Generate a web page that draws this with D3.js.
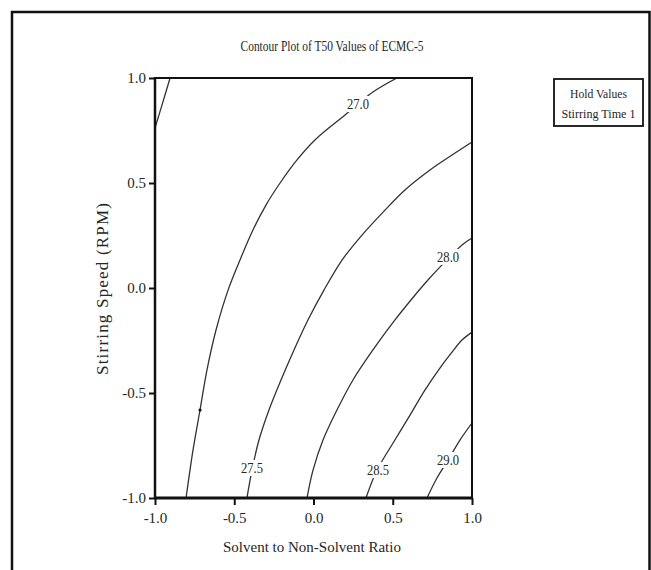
<!DOCTYPE html>
<html>
<head>
<meta charset="utf-8">
<script src="https://cdn.jsdelivr.net/npm/d3@7"></script>
<style>
  html, body { margin: 0; padding: 0; background: #fff; }
  svg { display: block; }
  text { font-family: "Liberation Serif", "Times New Roman", serif; fill: #262626; }
</style>
</head>
<body>
<div id="chart"></div>
<script>
// ---------- data ----------
const chartTitle = "Contour Plot of T50 Values of ECMC-5";
const xTitle = "Solvent to Non-Solvent Ratio";
const yTitle = "Stirring Speed (RPM)";
const legendLines = ["Hold Values", "Stirring Time  1"];

const xTicks = [-1.0, -0.5, 0.0, 0.5, 1.0];
const xTickLabels = ["-1.0", "-0.5", "0.0", "0.5", "1.0"];
const yTicks = [-1.0, -0.5, 0.0, 0.5, 1.0];
const yTickLabels = ["-1.0", "-0.5", "0.0", "0.5", "1.0"];

// contour levels and their traced points [solvent ratio, stirring speed]
const contourLevels = ["26.5", "27.0", "27.5", "28.0", "28.5", "29.0"];
const contour265 = [[-1.0, 0.762], [-0.956, 0.871], [-0.905, 1.0]];
const contour270 = [[-0.804, -1.0], [-0.760, -0.771], [-0.716, -0.581], [-0.672, -0.390], [-0.615, -0.200],
  [-0.539, -0.010], [-0.464, 0.133], [-0.382, 0.276], [-0.300, 0.395], [-0.211, 0.500], [-0.104, 0.610],
  [0.009, 0.705], [0.199, 0.824], [0.375, 0.933], [0.527, 1.0]];
const contour275 = [[-0.420, -1.0], [-0.388, -0.867], [-0.344, -0.724], [-0.281, -0.581], [-0.205, -0.438],
  [-0.123, -0.295], [-0.035, -0.152], [0.066, -0.010], [0.180, 0.133], [0.306, 0.252], [0.451, 0.371],
  [0.577, 0.467], [0.735, 0.562], [0.874, 0.633], [1.0, 0.695]];
const contour280 = [[-0.041, -1.0], [-0.003, -0.867], [0.060, -0.724], [0.148, -0.581], [0.249, -0.438],
  [0.375, -0.295], [0.514, -0.152], [0.615, -0.057], [0.722, 0.038], [0.811, 0.110], [0.937, 0.205], [1.0, 0.238]];
const contour285 = [[0.331, -1.0], [0.401, -0.867], [0.502, -0.738], [0.609, -0.605], [0.703, -0.486],
  [0.811, -0.367], [0.874, -0.305], [0.937, -0.248], [1.0, -0.210]];
const contour290 = [[0.716, -1.0], [0.779, -0.905], [0.849, -0.819], [0.924, -0.724], [1.0, -0.643]];

// contour label anchors (solvent ratio, stirring speed) and texts
const labelX = [0.281, -0.388, 0.849, 0.407, 0.849];
const labelY = [0.876, -0.857, 0.148, -0.867, -0.819];
const labelText = ["27.0", "27.5", "28.0", "28.5", "29.0"];

// small marker on the 27.0 contour
const markerPoint = [[-0.716, -0.581]];

// ---------- drawing ----------
(function () {
const W = 651, H = 570;
const svg = d3.select("#chart").append("svg").attr("width", W).attr("height", H);
svg.append("rect").attr("width", W).attr("height", H).attr("fill", "#fff");

// outer frame
svg.append("path")
  .attr("d", "M12,575 V12 H649.5 V575")
  .attr("fill", "none").attr("stroke", "#111").attr("stroke-width", 2.5);

const pLeft = 155, pRight = 472, pTop = 78, pBottom = 498;
const x = d3.scaleLinear().domain([-1, 1]).range([pLeft, pRight]);
const y = d3.scaleLinear().domain([-1, 1]).range([pBottom, pTop]);

// title
svg.append("text").attr("x", 332).attr("y", 51).attr("text-anchor", "middle")
  .attr("font-size", 14).attr("textLength", 183).attr("lengthAdjust", "spacingAndGlyphs")
  .text(chartTitle);

// clip
svg.append("clipPath").attr("id", "plotclip").append("rect")
  .attr("x", pLeft).attr("y", pTop).attr("width", pRight - pLeft).attr("height", pBottom - pTop);

const line = d3.line().x(d => x(d[0])).y(d => y(d[1])).curve(d3.curveCatmullRom.alpha(0.5));
const contours = [contour265, contour270, contour275, contour280, contour285, contour290];
const g = svg.append("g").attr("clip-path", "url(#plotclip)");
g.selectAll("path.contour").data(contours).join("path")
  .attr("class", "contour")
  .attr("d", line)
  .attr("fill", "none").attr("stroke", "#333").attr("stroke-width", 1.3);

g.selectAll("circle.marker").data(markerPoint).join("circle")
  .attr("cx", d => x(d[0])).attr("cy", d => y(d[1])).attr("r", 1.6).attr("fill", "#111");

// contour labels
const lab = svg.append("g");
labelText.forEach((t, i) => {
  const cx = x(labelX[i]), cy = y(labelY[i]);
  lab.append("rect").attr("x", cx - 14).attr("y", cy - 8).attr("width", 28).attr("height", 16).attr("fill", "#fff");
  lab.append("text").attr("x", cx).attr("y", cy + 5).attr("text-anchor", "middle")
    .attr("font-size", 14).attr("textLength", 22).attr("lengthAdjust", "spacingAndGlyphs").text(t);
});

// plot frame
svg.append("rect").attr("x", pLeft).attr("y", pTop).attr("width", pRight - pLeft).attr("height", pBottom - pTop)
  .attr("fill", "none").attr("stroke", "#111").attr("stroke-width", 2);
svg.append("line").attr("x1", pLeft - 1).attr("x2", pRight + 1).attr("y1", pBottom).attr("y2", pBottom)
  .attr("stroke", "#111").attr("stroke-width", 3);
svg.append("line").attr("x1", pLeft).attr("x2", pLeft).attr("y1", pTop - 1).attr("y2", pBottom + 1)
  .attr("stroke", "#111").attr("stroke-width", 2.5);

// axes
const xAxis = d3.axisBottom(x).tickValues(xTicks).tickSize(7).tickPadding(7)
  .tickFormat((d, i) => xTickLabels[i]);
const gx = svg.append("g").attr("transform", `translate(0,${pBottom})`).call(xAxis);
gx.select(".domain").remove();
gx.selectAll(".tick line").attr("stroke", "#111").attr("stroke-width", 2);
gx.selectAll(".tick text").attr("font-family", "Liberation Serif").attr("font-size", 15).attr("fill", "#262626");

const yAxis = d3.axisLeft(y).tickValues(yTicks).tickSize(6).tickPadding(3)
  .tickFormat((d, i) => yTickLabels[i]);
const gy = svg.append("g").attr("transform", `translate(${pLeft},0)`).call(yAxis);
gy.select(".domain").remove();
gy.selectAll(".tick line").attr("stroke", "#111").attr("stroke-width", 2);
gy.selectAll(".tick text").attr("font-family", "Liberation Serif").attr("font-size", 15).attr("fill", "#262626");

// axis titles
svg.append("text").attr("x", 312).attr("y", 552).attr("text-anchor", "middle")
  .attr("font-size", 15).text(xTitle);
svg.append("text").attr("transform", "translate(108,289) rotate(-90)").attr("text-anchor", "middle")
  .attr("font-size", 17).attr("textLength", 172).attr("lengthAdjust", "spacing").text(yTitle);

// hold values box
const lg = svg.append("g");
lg.append("rect").attr("x", 554).attr("y", 79).attr("width", 89).attr("height", 47)
  .attr("fill", "#fff").attr("stroke", "#111").attr("stroke-width", 1.8);
lg.append("text").attr("x", 598.5).attr("y", 98).attr("text-anchor", "middle")
  .attr("font-size", 13).attr("textLength", 57).attr("lengthAdjust", "spacingAndGlyphs").text(legendLines[0]);
lg.append("text").attr("x", 598.5).attr("y", 118).attr("text-anchor", "middle")
  .attr("font-size", 13).attr("textLength", 74).attr("lengthAdjust", "spacingAndGlyphs").text(legendLines[1]);
})();
</script>
</body>
</html>
